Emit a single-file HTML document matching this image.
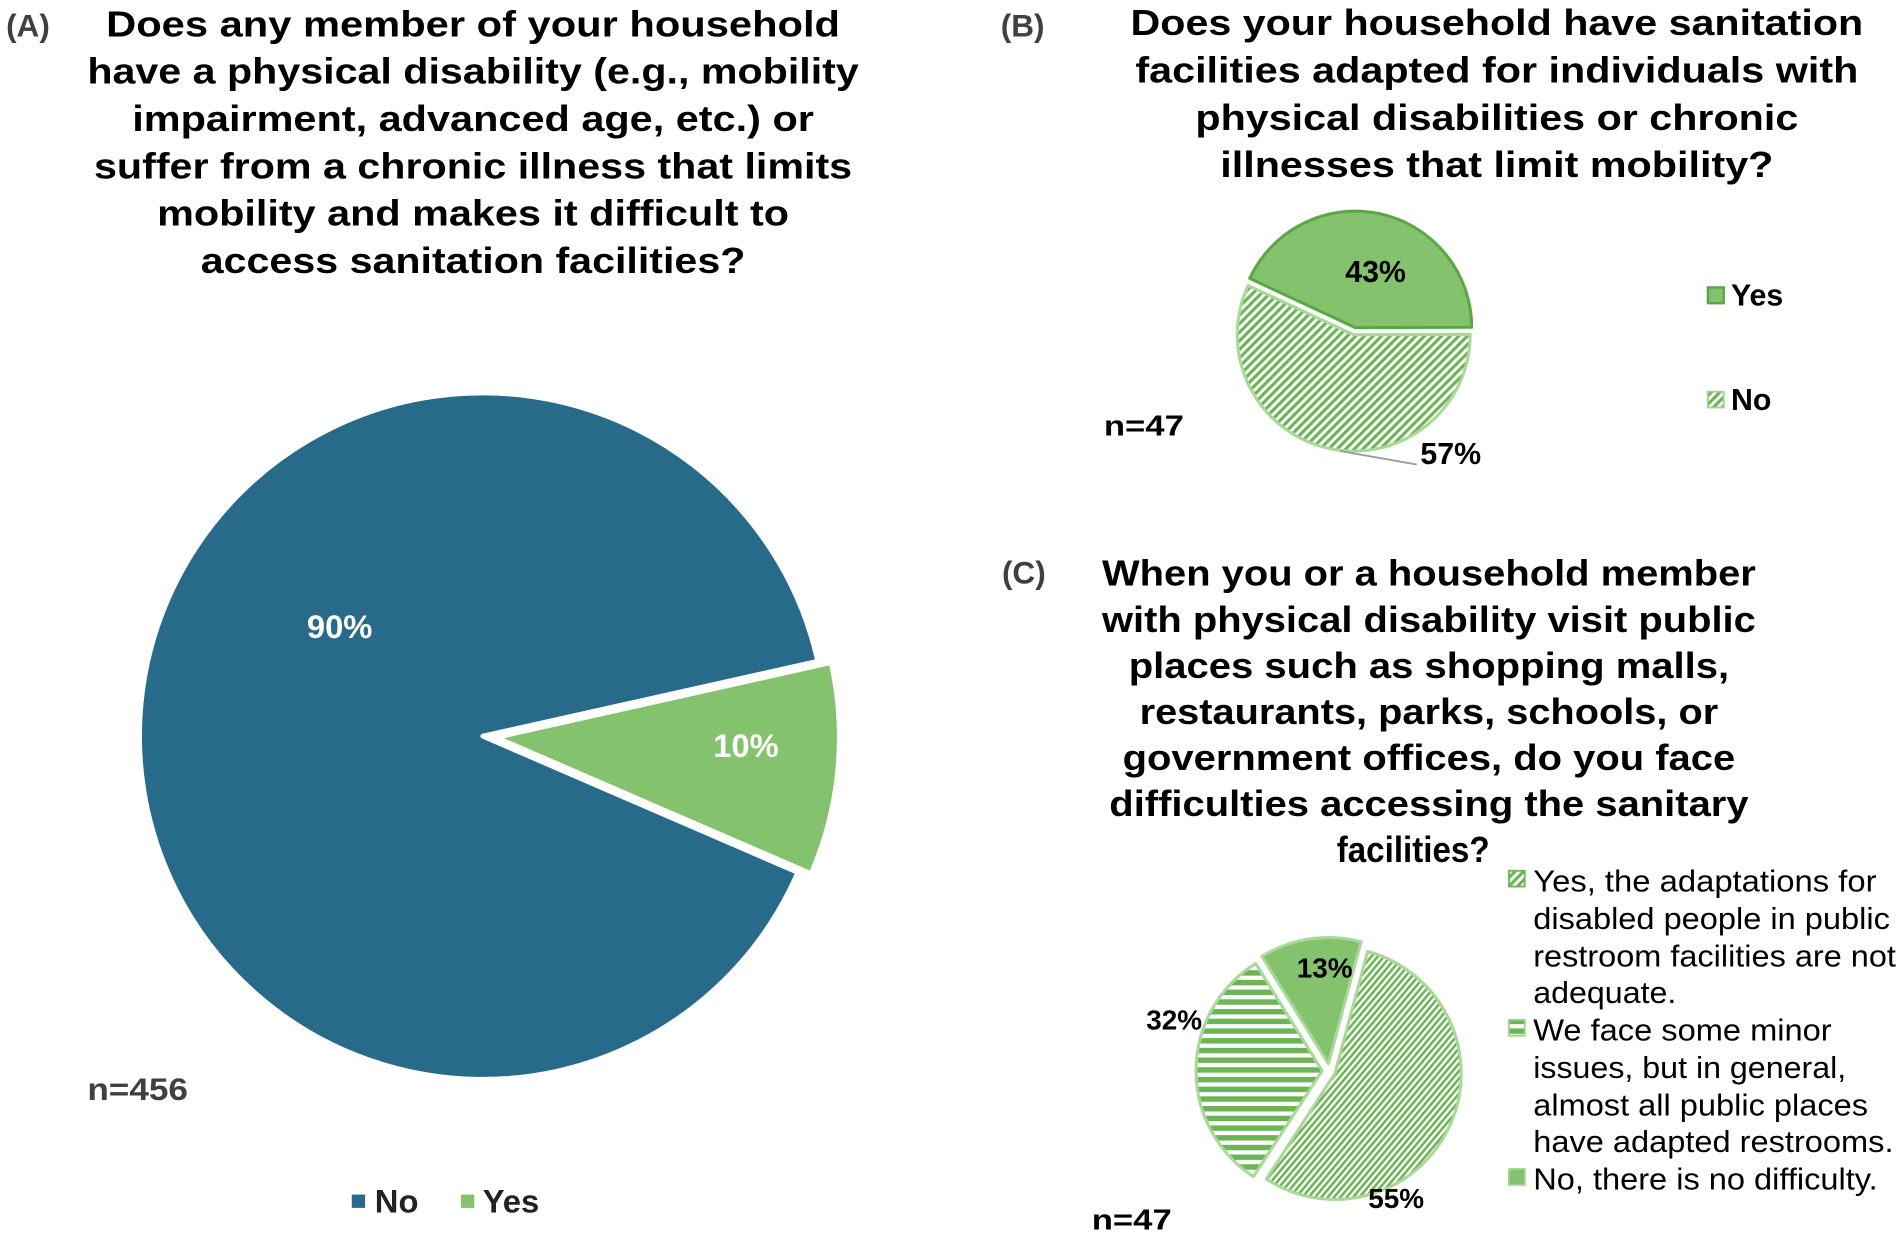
<!DOCTYPE html>
<html><head><meta charset="utf-8"><style>
html,body{margin:0;padding:0;background:#fff;}
svg{display:block;}
text{font-family:"Liberation Sans",Arial,sans-serif;}
.t{font-weight:bold;font-size:30px;fill:#000;text-anchor:middle;}
.lg{font-size:25.5px;fill:#000;}
</style></head><body>
<svg id="chart" width="1902" height="1237" viewBox="0 0 1568 1020" preserveAspectRatio="none" xmlns="http://www.w3.org/2000/svg">
<defs>
<pattern id="diag" width="5" height="5" patternUnits="userSpaceOnUse" patternTransform="rotate(45)"><rect width="5" height="5" fill="#fff"/><rect width="2.6" height="5" fill="#6cb556"/></pattern>
<pattern id="diagF" width="4" height="4" patternUnits="userSpaceOnUse" patternTransform="rotate(40)"><rect width="4" height="4" fill="#fff"/><rect width="2.1" height="4" fill="#6cb556"/></pattern>
<pattern id="horiz" width="8" height="8" patternUnits="userSpaceOnUse"><rect width="8" height="8" fill="#fff"/><rect width="8" height="4.5" fill="#6cb556"/></pattern>
</defs>
<text x="5" y="30" font-size="26" font-weight="bold" fill="#404040">(A)</text>
<g>
<text class="t" x="390" y="30" textLength="605" lengthAdjust="spacingAndGlyphs">Does any member of your household</text>
<text class="t" x="390" y="69" textLength="636" lengthAdjust="spacingAndGlyphs">have a physical disability (e.g., mobility</text>
<text class="t" x="390" y="108" textLength="562" lengthAdjust="spacingAndGlyphs">impairment, advanced age, etc.) or</text>
<text class="t" x="390" y="147" textLength="625" lengthAdjust="spacingAndGlyphs">suffer from a chronic illness that limits</text>
<text class="t" x="390" y="186" textLength="521" lengthAdjust="spacingAndGlyphs">mobility and makes it difficult to</text>
<text class="t" x="390" y="225" textLength="449" lengthAdjust="spacingAndGlyphs">access sanitation facilities?</text>
</g>
<g id="pieA"></g>
<text x="72" y="907" font-size="26" font-weight="bold" fill="#404040" textLength="83" lengthAdjust="spacingAndGlyphs">n=456</text>
<g>
<rect x="290" y="985" width="11" height="11" fill="#286a8a"/>
<text x="309" y="1000" font-size="27" font-weight="bold" fill="#222">No</text>
<rect x="380" y="985" width="11" height="11" fill="#84c26e"/>
<text x="398" y="1000" font-size="27" font-weight="bold" fill="#222">Yes</text>
</g>

<text x="825" y="30" font-size="26" font-weight="bold" fill="#404040">(B)</text>
<g>
<text class="t" x="1234" y="29" textLength="604" lengthAdjust="spacingAndGlyphs">Does your household have sanitation</text>
<text class="t" x="1234" y="68" textLength="596" lengthAdjust="spacingAndGlyphs">facilities adapted for individuals with</text>
<text class="t" x="1234" y="107" textLength="497" lengthAdjust="spacingAndGlyphs">physical disabilities or chronic</text>
<text class="t" x="1234" y="146" textLength="456" lengthAdjust="spacingAndGlyphs">illnesses that limit mobility?</text>
</g>
<g id="pieB"></g>
<line x1="1105" y1="372" x2="1168" y2="383" stroke="#999" stroke-width="1.5"/>
<text x="910" y="359" font-size="24" font-weight="bold" fill="#000" textLength="66" lengthAdjust="spacingAndGlyphs">n=47</text>
<g>
<rect x="1408" y="237" width="13" height="13" fill="#84c26e" stroke="#5aa845" stroke-width="2"/>
<text x="1427" y="252" font-size="25" font-weight="bold">Yes</text>
<rect x="1408" y="323" width="13" height="13" fill="url(#diag)" stroke="#9fd18c" stroke-width="1.5"/>
<text x="1427" y="338" font-size="25" font-weight="bold">No</text>
</g>

<text x="826" y="481" font-size="26" font-weight="bold" fill="#404040">(C)</text>
<g>
<text class="t" x="1178" y="483" textLength="539" lengthAdjust="spacingAndGlyphs">When you or a household member</text>
<text class="t" x="1178" y="521" textLength="539" lengthAdjust="spacingAndGlyphs">with physical disability visit public</text>
<text class="t" x="1178" y="559" textLength="495" lengthAdjust="spacingAndGlyphs">places such as shopping malls,</text>
<text class="t" x="1178" y="597" textLength="477" lengthAdjust="spacingAndGlyphs">restaurants, parks, schools, or</text>
<text class="t" x="1178" y="635" textLength="505" lengthAdjust="spacingAndGlyphs">government offices, do you face</text>
<text class="t" x="1178" y="673" textLength="527" lengthAdjust="spacingAndGlyphs">difficulties accessing the sanitary</text>
<text class="t" x="1165" y="711" textLength="126" lengthAdjust="spacingAndGlyphs">facilities?</text>
</g>
<g id="pieC"></g>
<text x="900" y="1014" font-size="24" font-weight="bold" fill="#000" textLength="66" lengthAdjust="spacingAndGlyphs">n=47</text>
<g>
<rect x="1244" y="718" width="13" height="13" fill="url(#diag)" stroke="#6cb556" stroke-width="1.5"/>
<text class="lg" x="1264" y="735" textLength="283" lengthAdjust="spacingAndGlyphs">Yes, the adaptations for</text>
<text class="lg" x="1264" y="766" textLength="294" lengthAdjust="spacingAndGlyphs">disabled people in public</text>
<text class="lg" x="1264" y="797" textLength="299" lengthAdjust="spacingAndGlyphs">restroom facilities are not</text>
<text class="lg" x="1264" y="827" textLength="118" lengthAdjust="spacingAndGlyphs">adequate.</text>
<rect x="1244" y="841" width="13" height="13" fill="url(#horiz)" stroke="#9fd18c" stroke-width="1.5"/>
<text class="lg" x="1264" y="858" textLength="246" lengthAdjust="spacingAndGlyphs">We face some minor</text>
<text class="lg" x="1264" y="889" textLength="258" lengthAdjust="spacingAndGlyphs">issues, but in general,</text>
<text class="lg" x="1264" y="920" textLength="276" lengthAdjust="spacingAndGlyphs">almost all public places</text>
<text class="lg" x="1264" y="950" textLength="297" lengthAdjust="spacingAndGlyphs">have adapted restrooms.</text>
<rect x="1244" y="964" width="13" height="13" fill="#84c26e" stroke="#9fd18c" stroke-width="1.5"/>
<text class="lg" x="1264" y="981" textLength="284" lengthAdjust="spacingAndGlyphs">No, there is no difficulty.</text>
</g>
</svg>
<script>
const pieACategories = ['No', 'Yes'];
const pieAValues = [90, 10];
const pieBCategories = ['Yes', 'No'];
const pieBValues = [43, 57];
const pieCCategories = ['Inadequate', 'Minor issues', 'No difficulty'];
const pieCValues = [55, 32, 13];

const NS = 'http://www.w3.org/2000/svg';
function pt(cx, cy, r, deg) { const a = deg * Math.PI / 180; return [cx + r * Math.cos(a), cy + r * Math.sin(a)]; }
function drawPie(gid, values, cfg) {
  const g = document.getElementById(gid);
  const total = values.reduce((a, b) => a + b, 0);
  let ang = cfg.start;
  values.forEach((v, i) => {
    const sweep = v / total * 360;
    const mid = ang + sweep / 2;
    const ex = cfg.explode[i] || 0;
    const [ox, oy] = pt(0, 0, ex, mid);
    const cx = cfg.cx + ox, cy = cfg.cy + oy;
    const [x1, y1] = pt(cx, cy, cfg.r, ang);
    const [x2, y2] = pt(cx, cy, cfg.r, ang + sweep);
    const p = document.createElementNS(NS, 'path');
    p.setAttribute('d', `M${cx},${cy} L${x1},${y1} A${cfg.r},${cfg.r} 0 ${sweep > 180 ? 1 : 0} 1 ${x2},${y2} Z`);
    p.setAttribute('fill', cfg.fills[i]);
    p.setAttribute('stroke', cfg.strokes[i]);
    p.setAttribute('stroke-width', cfg.sw);
    p.setAttribute('stroke-linejoin', 'round');
    
    
    g.appendChild(p);
    const [lx, ly] = cfg.labelPos[i];
    const t = document.createElementNS(NS, 'text');
    t.setAttribute('x', lx); t.setAttribute('y', ly);
    t.setAttribute('text-anchor', 'middle');
    t.setAttribute('dominant-baseline', 'middle');
    t.setAttribute('font-size', cfg.fs);
    t.setAttribute('font-weight', 'bold');
    t.setAttribute('fill', cfg.labelColor);
    t.textContent = v + '%';
    
    
    g.appendChild(t);
    ang += sweep;
  });
}
drawPie('pieA', pieAValues, {cx: 398, cy: 607, r: 283, start: 23.4, explode: [0, 11],
  fills: ['#286a8a', '#84c26e'], strokes: ['#fff', '#fff'], sw: 4, names: pieACategories,
  labelPos: [[280, 519], [615, 617]], fs: 27, labelColor: '#fff'});
drawPie('pieB', pieBValues, {cx: 1116, cy: 276, r: 96, start: -155, explode: [6, 0],
  fills: ['#84c26e', 'url(#diag)'], strokes: ['#5aa845', '#a9d898'], sw: 2.5, names: pieBCategories,
  labelPos: [[1134, 226], [1196, 376]], fs: 25, labelColor: '#000'});
drawPie('pieC', pieCValues, {cx: 1096, cy: 883, r: 104, start: -75, explode: [5, 6, 6],
  fills: ['url(#diagF)', 'url(#horiz)', '#84c26e'], strokes: ['#a9d898', '#a9d898', '#a9d898'], sw: 2.5, names: pieCCategories,
  labelPos: [[1151, 990], [968, 843], [1092, 800]], fs: 23, labelColor: '#000'});
</script>
</body></html>
